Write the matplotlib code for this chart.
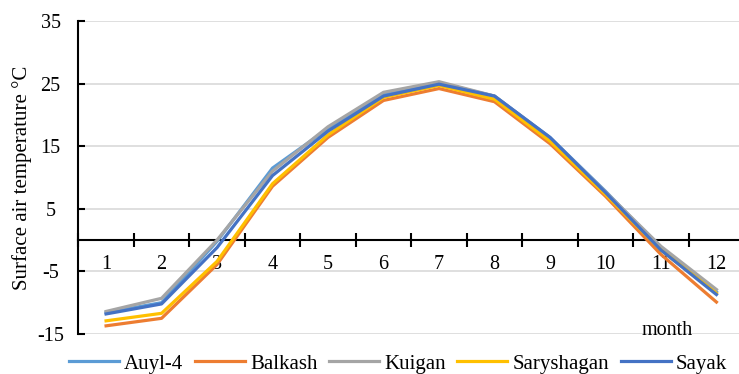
import numpy as np
import matplotlib.pyplot as plt

plt.rcParams["font.family"] = ["Liberation Serif", "DejaVu Serif"]
plt.rcParams["axes.unicode_minus"] = False

months = np.arange(1, 13)
month_labels = [str(m) for m in months]
auyl4 = [-11.6, -10.0, -0.2, 11.5, 17.8, 23.4, 25.1, 23.0, 16.4, 7.8, -1.3, -8.3]
balkash = [-13.7, -12.5, -3.9, 8.6, 16.4, 22.3, 24.2, 22.1, 15.4, 7.0, -2.3, -9.9]
kuigan = [-11.4, -9.3, 0.0, 11.0, 18.1, 23.6, 25.3, 23.0, 16.3, 7.7, -1.0, -7.9]
saryshagan = [-12.9, -11.7, -3.4, 9.0, 16.8, 22.8, 24.7, 22.5, 15.8, 7.3, -1.6, -8.5]
sayak = [-11.8, -10.2, -1.2, 10.3, 17.4, 23.0, 24.9, 23.0, 16.4, 7.6, -1.6, -8.7]

series = [("Auyl-4", auyl4, "#5B9BD5"),
          ("Balkash", balkash, "#ED7D31"),
          ("Kuigan", kuigan, "#A5A5A5"),
          ("Saryshagan", saryshagan, "#FFC000"),
          ("Sayak", sayak, "#4472C4")]

fig = plt.figure(figsize=(7.39, 3.74), dpi=100)
ax = fig.add_axes([0.106, 0.107, 0.901, 0.837])

for name, vals, col in series:
    ax.plot(months, vals, color=col, lw=2.3, label=name)

ax.set_xlim(0.5, 12.5)
ax.set_ylim(-15, 35)
ax.set_yticks(np.arange(-15, 36, 10))
ax.yaxis.grid(True, color="#D9D9D9", lw=1.2)
ax.set_axisbelow(True)

for s in ["top", "right"]:
    ax.spines[s].set_visible(False)
for s in ["left", "bottom"]:
    ax.spines[s].set_color("black")
    ax.spines[s].set_linewidth(1.5)
ax.spines["bottom"].set_position(("data", 0))
ax.spines["bottom"].set_zorder(1)

# ticks between categories, labels at category centres
ax.set_xticks(np.arange(0.5, 13, 1))
ax.set_xticklabels([])
ax.tick_params(axis="x", which="major", direction="inout", length=10, width=1.5)
ax.set_xticks(months, minor=True)
ax.set_xticklabels(month_labels, minor=True)
ax.tick_params(axis="x", which="minor", length=0, pad=11, labelsize=14.5)
ax.tick_params(axis="y", direction="in", length=5, width=1.5, labelsize=14.5, pad=20)
for lab in ax.get_yticklabels():
    lab.set_horizontalalignment("center")

ax.set_ylabel("Surface air temperature °C", fontsize=15, labelpad=4)
ax.text(11.12, -14.4, "month", fontsize=14.5, ha="center", va="center")

ax.legend(loc="center", bbox_to_anchor=(0.48, -0.095), ncol=5, frameon=False,
          fontsize=15, handlelength=2.4, columnspacing=0.55, handletextpad=0.25,
          borderaxespad=0)

fig.savefig("out.png", dpi=100)
